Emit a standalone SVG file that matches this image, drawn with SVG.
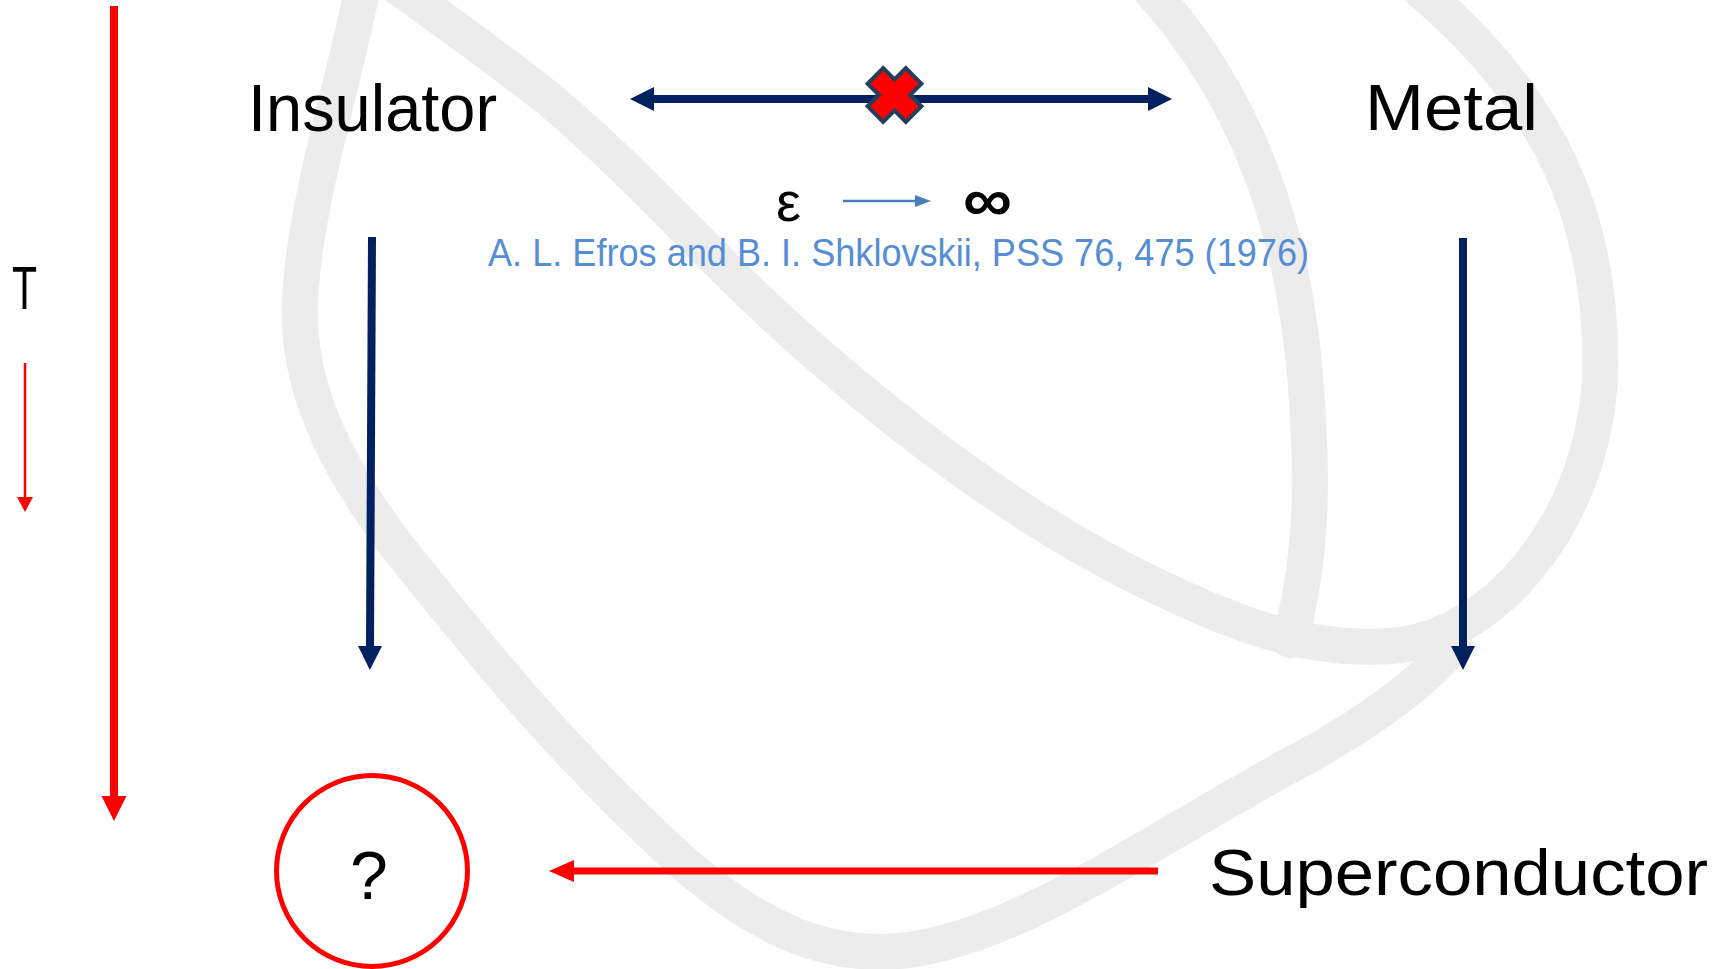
<svg xmlns="http://www.w3.org/2000/svg" width="1732" height="969" viewBox="0 0 1732 969">
<style>
.wm{fill:none;stroke:#ececec;stroke-width:36;stroke-linecap:round}
.lbl{font-family:"Liberation Sans",Arial,sans-serif;fill:#000}
.navy{stroke:#002060;stroke-width:8;fill:none}
.red{stroke:#ff0000;fill:none}
.cite{font-family:"Liberation Sans",Arial,sans-serif;fill:#558ED5;font-size:38px}
</style>
<defs>
<marker id="hNavy" markerUnits="userSpaceOnUse" viewBox="0 -12 24 24" refX="1" refY="0" markerWidth="24" markerHeight="24" orient="auto-start-reverse"><path d="M0,-12 L24,0 L0,12 z" fill="#002060"/></marker>
<marker id="hRedBig" markerUnits="userSpaceOnUse" viewBox="0 -13 25 26" refX="1" refY="0" markerWidth="25" markerHeight="26" orient="auto"><path d="M0,-12.5 L25,0 L0,12.5 z" fill="#ff0000"/></marker>
<marker id="hRedH" markerUnits="userSpaceOnUse" viewBox="0 -11 25 22" refX="1" refY="0" markerWidth="25" markerHeight="22" orient="auto"><path d="M0,-11 L25,0 L0,11 z" fill="#ff0000"/></marker>
<marker id="hRedSmall" markerUnits="userSpaceOnUse" viewBox="0 -8 15 16" refX="1" refY="0" markerWidth="15" markerHeight="16" orient="auto"><path d="M0,-8 L15,0 L0,8 z" fill="#ff0000"/></marker>
<marker id="hBlue" markerUnits="userSpaceOnUse" viewBox="0 -6 16 12" refX="1" refY="0" markerWidth="16" markerHeight="12" orient="auto"><path d="M0,-6 L16,0 L0,6 z" fill="#4a7ebb"/></marker>
</defs>
<rect width="1732" height="969" fill="#ffffff"/>
<g id="watermark">
<path class="wm" d="M 362 -10 C 345 80, 305 200, 300 300 C 296 380, 330 460, 400 550 C 480 650, 560 750, 680 860 C 760 930, 820 952, 880 952 C 1000 952, 1150 840, 1300 760 C 1370 722, 1420 685, 1455 645"/>
<path class="wm" d="M 395 -15 C 430 10, 500 60, 550 100 C 640 175, 720 270, 807 345 C 920 445, 1040 530, 1150 583 C 1230 622, 1310 655, 1400 645 C 1490 635, 1590 530, 1600 380 C 1605 220, 1550 100, 1420 -10"/>
<path class="wm" d="M 1150 -10 C 1250 100, 1300 240, 1308 420 C 1315 530, 1302 595, 1290 640"/>
</g>
<g id="connectors">
<line id="insulator-metal" class="navy" x1="653" y1="99" x2="1149" y2="99" stroke-width="7" marker-start="url(#hNavy)" marker-end="url(#hNavy)"/>
<line id="insulator-down" class="navy" x1="372" y1="237" x2="370" y2="647" marker-end="url(#hNavy)"/>
<line id="metal-down" class="navy" x1="1463" y1="238" x2="1463" y2="647" marker-end="url(#hNavy)"/>
<line id="temperature-axis" class="red" x1="114" y1="6" x2="114" y2="797" stroke-width="8" marker-end="url(#hRedBig)"/>
<line id="t-small-arrow" class="red" x1="25" y1="363" x2="25" y2="498" stroke-width="2.5" marker-end="url(#hRedSmall)"/>
<line id="super-to-unknown" class="red" x1="1158" y1="871" x2="573" y2="871" stroke-width="7" marker-end="url(#hRedH)"/>
<line id="eps-arrow" x1="843" y1="201" x2="916" y2="201" stroke="#4a7ebb" stroke-width="2.5" marker-end="url(#hBlue)"/>
</g>
<g id="cross-mark" transform="translate(894.5 95) rotate(45)">
<polygon points="11,27 11,11 27,11 27,-11 11,-11 11,-27 -11,-27 -11,-11 -27,-11 -27,11 -11,11 -11,27" fill="#ff0000" stroke="#233f5e" stroke-width="4" stroke-linejoin="miter"/>
</g>
<g id="insulator"><text class="lbl" x="248" y="131" font-size="66" textLength="249" lengthAdjust="spacingAndGlyphs">Insulator</text></g>
<g id="metal"><text class="lbl" x="1365" y="130" font-size="64" textLength="173" lengthAdjust="spacingAndGlyphs">Metal</text></g>
<g id="superconductor"><text class="lbl" x="1209" y="895" font-size="64" textLength="499" lengthAdjust="spacingAndGlyphs">Superconductor</text></g>
<g id="unknown">
<circle cx="372" cy="871" r="95.5" fill="none" stroke="#ff0000" stroke-width="5"/>
<text class="lbl" x="369" y="899" font-size="68" text-anchor="middle">?</text>
</g>
<g id="t-label"><text class="lbl" x="12" y="309" font-size="62" textLength="25" lengthAdjust="spacingAndGlyphs">T</text></g>
<g id="eps-label">
<text class="lbl" x="776" y="221" font-size="56" textLength="25" lengthAdjust="spacingAndGlyphs">ε</text>
<text class="lbl" x="963" y="221" font-size="62" font-weight="bold" textLength="49" lengthAdjust="spacingAndGlyphs">∞</text>
</g>
<g id="citation"><text class="cite" x="488" y="266" textLength="821" lengthAdjust="spacingAndGlyphs">A. L. Efros and B. I. Shklovskii, PSS 76, 475 (1976)</text></g>
</svg>
